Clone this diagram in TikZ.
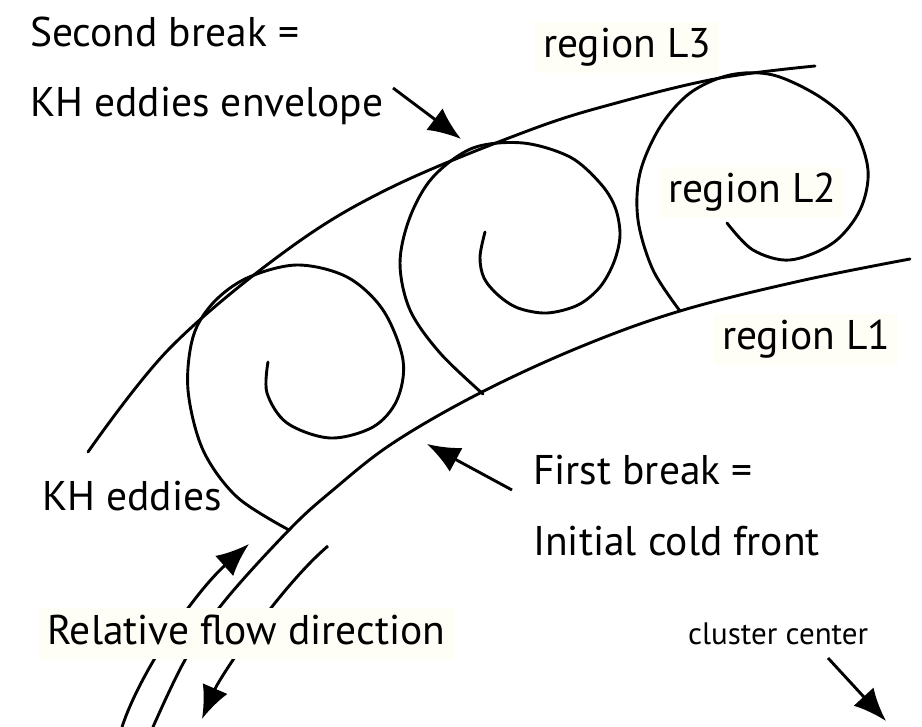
\documentclass[tikz,border=0pt]{standalone}
\usepackage{fontspec}
\setmainfont{PT Sans}
\usetikzlibrary{arrows.meta}
\definecolor{cream}{RGB}{254,254,246}
\begin{document}
\begin{tikzpicture}[x=1pt,y=-1pt,
  curve/.style={line width=2.9pt, line cap=round, line join=round},
  pointer/.style={line width=2.9pt, -{Latex[length=33pt,width=27pt]}},
  lbl/.style={inner sep=0pt, anchor=base west, font=\fontsize{41.5}{49}\selectfont},
  boxlbl/.style={lbl, fill=cream, inner xsep=8pt, inner ysep=6pt, text height=30pt, text depth=9pt},
  smalllbl/.style={inner sep=0pt, anchor=base west, font=\fontsize{31}{37}\selectfont}]
\useasboundingbox (0,0) rectangle (922,727);

% second break: envelope of the KH eddies
\draw[curve] plot[smooth, tension=0.6] coordinates
  {(88,452) (170,348) (287,250) (390,188) (530,130) (620,102) (720,78) (815,66)};

% first break: initial cold front
\draw[curve] plot[smooth, tension=0.6] coordinates
  {(153,727) (185,660) (223,603) (289,530) (333,490) (393,443) (480,393) (580,347) (680,311) (800,281) (910,259)};

% KH eddies rolling up between the two breaks
\draw[curve] plot[smooth, tension=0.55] coordinates
  {(289,530) (237,497) (203,450) (188,390) (193,337) (213,303) (247,278) (297,265)
   (347,277) (383,310) (403,360) (397,400) (373,427) (330,438) (287,423) (267,393) (268,362)};
\draw[curve] plot[smooth, tension=0.55] coordinates
  {(483,394) (440,353) (410,310) (400,263) (410,217) (433,177) (473,148) (523,143)
   (570,157) (600,183) (615,207) (620,235) (614,262) (600,287) (578,305) (547,313)
   (518,308) (498,295) (484,278) (480,257) (485,232)};
\draw[curve] plot[smooth, tension=0.55] coordinates
  {(680,311) (653,270) (638,220) (640,173) (660,127) (690,93) (730,75) (773,75)
   (820,97) (853,127) (868,170) (860,210) (833,243) (790,260) (753,250) (727,223)};

% relative flow on both sides of the front
\coordinate (inA) at (122,727);
\coordinate (inB) at (249,544);
\coordinate (outA) at (328,546);
\coordinate (outB) at (202,719);
\draw[pointer] (inA) .. controls (140,672) and (195,592) .. (inB);
\draw[pointer] (outA) .. controls (282,585) and (221,675) .. (outB);

% labels
\node[lbl] (sb) at (30,47) {Second break =};
\node[lbl] (env) at (30,117) {KH eddies envelope};
\node[boxlbl] (L3) at (535,58) {region L3};
\node[boxlbl] (L2) at (660,203) {region L2};
\node[boxlbl] (L1) at (714,350) {region L1};
\node[lbl] (fb) at (533,485) {First break =};
\node[lbl] (icf) at (533,555) {Initial cold front};
\node[lbl] (kh) at (42,511) {KH eddies};
\node[boxlbl] (rfd) at (39,644) {Relative flow direction};
\node[smalllbl] (cc) at (688,644) {cluster center};

% pointers from the labels
\coordinate (envTail) at (393,88);
\coordinate (envTip) at (461,139);
\coordinate (fbTail) at (512,490);
\coordinate (fbTip) at (427,444);
\coordinate (ccTail) at (828,658);
\coordinate (ccTip) at (886,721);
\draw[pointer] (envTail) -- (envTip);
\draw[pointer] (fbTail) -- (fbTip);
\draw[pointer] (ccTail) -- (ccTip);
\end{tikzpicture}
\end{document}
